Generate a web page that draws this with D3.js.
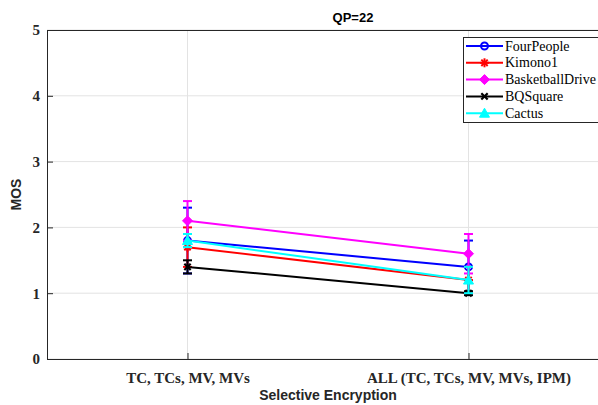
<!DOCTYPE html>
<html><head><meta charset="utf-8">
<script src="https://cdn.jsdelivr.net/npm/d3@7"></script>
<style>body{margin:0;background:#fff;} svg{display:block;} .serif{font-family:"Liberation Serif","Times New Roman",Times,serif;} .sans{font-family:"Liberation Sans",Arial,Helvetica,sans-serif;}</style>
</head><body>
<svg id="c" width="598" height="405"></svg>
<script>
const categories = ["TC, TCs, MV, MVs", "ALL (TC, TCs, MV, MVs, IPM)"];
const seriesNames = ["FourPeople", "Kimono1", "BasketballDrive", "BQSquare", "Cactus"];
const seriesColors = ["#0000ff", "#ff0000", "#ff00ff", "#000000", "#00ffff"];
const seriesMarkers = ["circle", "asterisk", "diamond", "cross", "triangle"];
const fourPeople = [1.8, 1.4];
const kimono1 = [1.7, 1.2];
const basketballDrive = [2.1, 1.6];
const bqSquare = [1.4, 1.0];
const cactus = [1.8, 1.2];
const errFourPeople = [0.5, 0.4];
const errKimono1 = [0.3, 0.2];
const errBasketballDrive = [0.3, 0.3];
const errBQSquare = [0.1, 0.03];
const errCactus = [0.1, 0.2];
const yTicks = [0, 1, 2, 3, 4, 5];
const title = "QP=22";
const xTitle = "Selective Encryption";
const yTitle = "MOS";

const values = [fourPeople, kimono1, basketballDrive, bqSquare, cactus];
const errors = [errFourPeople, errKimono1, errBasketballDrive, errBQSquare, errCactus];

const svg = d3.select("#c");
const L = 47, T = 30, R = 609, B = 359;
const x = d3.scaleLinear().domain([0.5, 2.5]).range([L, R]);
const y = d3.scaleLinear().domain([0, 5]).range([B, T]);

// grid
const g = svg.append("g");
g.selectAll(".gy").data(yTicks).enter().append("line")
  .attr("x1", L).attr("x2", R).attr("y1", d => y(d)).attr("y2", d => y(d))
  .attr("stroke", "#e3e3e3").attr("stroke-width", 1);
g.selectAll(".gx").data(categories).enter().append("line")
  .attr("x1", (d, i) => x(i + 1)).attr("x2", (d, i) => x(i + 1)).attr("y1", T).attr("y2", B)
  .attr("stroke", "#e3e3e3").attr("stroke-width", 1);

// axes
const yAxis = d3.axisLeft(y).tickValues(yTicks).tickSize(-6).tickPadding(7).tickFormat(d3.format("d"));
const ya = svg.append("g").attr("transform", `translate(${L},0)`).call(yAxis);
ya.attr("font-family", null);
ya.select(".domain").attr("stroke", "#262626");
ya.selectAll(".tick line").attr("stroke", "#262626");
ya.selectAll("text").attr("class", "serif").attr("font-weight", "bold").attr("font-size", 15).attr("fill", "#262626");

const xAxis = d3.axisBottom(x).tickValues([1, 2]).tickSize(-6).tickPadding(13)
  .tickFormat(d => categories[d - 1]);
const xa = svg.append("g").attr("transform", `translate(0,${B})`).call(xAxis);
xa.attr("font-family", null);
xa.select(".domain").attr("stroke", "#262626");
xa.selectAll(".tick line").attr("stroke", "#262626");
xa.selectAll("text").attr("class", "serif").attr("font-weight", "bold").attr("font-size", 15).attr("fill", "#262626");

// top border
svg.append("line").attr("x1", L).attr("x2", R).attr("y1", T + 0.5).attr("y2", T + 0.5)
  .attr("stroke", "#262626").attr("stroke-width", 1);

// series
function marker(sel, type, color) {
  if (type === "circle") {
    sel.append("circle").attr("r", 3.5).attr("fill", "none").attr("stroke", color).attr("stroke-width", 2);
  } else if (type === "asterisk") {
    [0, 45, 90, 135].forEach(a => sel.append("line").attr("x1", -4.5).attr("x2", 4.5)
      .attr("transform", `rotate(${a})`).attr("stroke", color).attr("stroke-width", 2));
  } else if (type === "diamond") {
    sel.append("path").attr("d", "M0,-5L5,0L0,5L-5,0Z").attr("fill", color).attr("stroke", color).attr("stroke-width", 1);
  } else if (type === "cross") {
    [45, 135].forEach(a => sel.append("line").attr("x1", -4.5).attr("x2", 4.5)
      .attr("transform", `rotate(${a})`).attr("stroke", color).attr("stroke-width", 2.2));
  } else if (type === "triangle") {
    sel.append("path").attr("d", "M0,-5L5,4L-5,4Z").attr("fill", color).attr("stroke", color).attr("stroke-width", 1);
  }
}

const line = d3.line().x((d, i) => x(i + 1)).y(d => y(d));
values.forEach((vals, s) => {
  const col = seriesColors[s];
  const sg = svg.append("g");
  sg.append("path").datum(vals).attr("d", line).attr("fill", "none").attr("stroke", col).attr("stroke-width", 2);
  vals.forEach((v, i) => {
    const e = errors[s][i];
    const cx = x(i + 1);
    sg.append("line").attr("x1", cx).attr("x2", cx).attr("y1", y(v - e)).attr("y2", y(v + e))
      .attr("stroke", col).attr("stroke-width", 2);
    [v - e, v + e].forEach(c => sg.append("line").attr("x1", cx - 4.5).attr("x2", cx + 4.5)
      .attr("y1", y(c)).attr("y2", y(c)).attr("stroke", col).attr("stroke-width", 2));
    const m = sg.append("g").attr("transform", `translate(${cx},${y(v)})`);
    marker(m, seriesMarkers[s], col);
  });
});

// legend
const lg = svg.append("g");
lg.append("rect").attr("x", 463.5).attr("y", 37.5).attr("width", 140).attr("height", 85)
  .attr("fill", "#fff").attr("stroke", "#262626").attr("stroke-width", 1);
seriesNames.forEach((n, i) => {
  const yy = 46 + i * 16.8;
  lg.append("line").attr("x1", 466).attr("x2", 503).attr("y1", yy).attr("y2", yy)
    .attr("stroke", seriesColors[i]).attr("stroke-width", 2);
  const m = lg.append("g").attr("transform", `translate(484.5,${yy})`);
  marker(m, seriesMarkers[i], seriesColors[i]);
  lg.append("text").attr("class", "serif").attr("x", 505).attr("y", yy + 4.5).text(n)
    .attr("font-size", 14).attr("fill", "#000");
});

// titles
svg.append("text").attr("class", "sans").attr("x", 353).attr("y", 22).attr("text-anchor", "middle").text(title)
  .attr("font-weight", "bold").attr("font-size", 13).attr("fill", "#000");
svg.append("text").attr("class", "sans").attr("x", 328).attr("y", 400).attr("text-anchor", "middle").text(xTitle)
  .attr("font-weight", "bold").attr("font-size", 14).attr("fill", "#262626");
svg.append("text").attr("class", "sans").attr("transform", `translate(21,${(T + B) / 2}) rotate(-90)`).attr("text-anchor", "middle").text(yTitle)
  .attr("font-weight", "bold").attr("font-size", 14).attr("fill", "#262626");
</script>
</body></html>
